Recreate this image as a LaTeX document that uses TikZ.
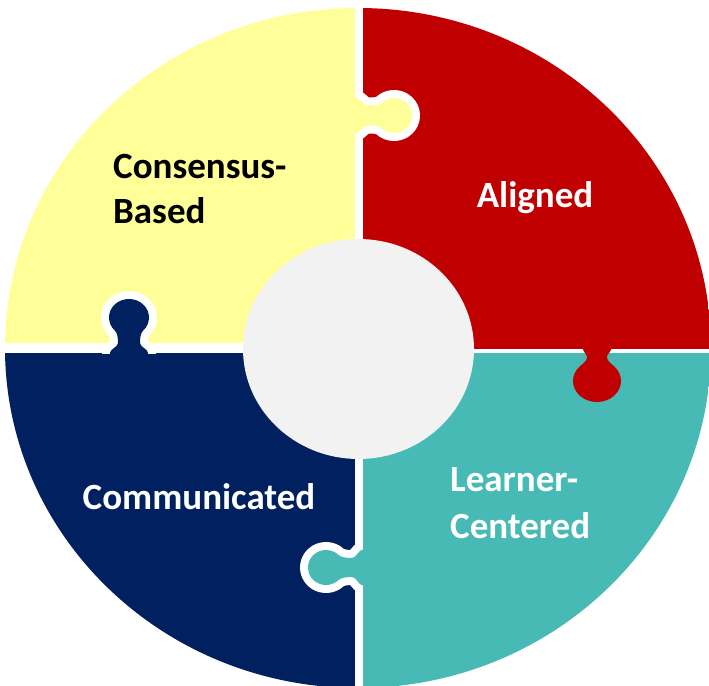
\documentclass[tikz,border=0pt]{standalone}
\usepackage{fontspec}
\setmainfont{Carlito}
\definecolor{cyellow}{HTML}{FFFF99}
\definecolor{cred}{HTML}{C00000}
\definecolor{cteal}{HTML}{47BAB6}
\definecolor{cnavy}{HTML}{002060}
\definecolor{cgray}{HTML}{F2F2F2}
\tikzset{
  lbl/.style={inner sep=0pt, align=left, font=\fontsize{37}{45}\selectfont\bfseries},
  tabedge/.style={draw=white, line width=16pt, line join=round},
}
% d ra rp n un f : knob centre distance, radius along axis, radius across, neck half width, neck position, flare half width
\newcommand{\puzzletab}[6]{%
  (-9,-#6) -- (0,-#6) .. controls ({0.4*#5},-#6) and ({0.6*#5},-#4) .. (#5,-#4)
  .. controls ({#5+4},-#4) and ({#1-0.8485*#2},{-0.5657*#3}) .. ({#1-0.7071*#2},{-0.7071*#3})
  arc[start angle=225, end angle=495, x radius=#2, y radius=#3]
  .. controls ({#1-0.8485*#2},{0.5657*#3}) and ({#5+4},#4) .. (#5,#4)
  .. controls ({0.6*#5},#4) and ({0.4*#5},#6) .. (0,#6) -- (-9,#6) -- cycle}
\begin{document}
\begin{tikzpicture}[x=1pt,y=-1pt]
\useasboundingbox (0,0) rectangle (709,685);
\fill[white] (0,0) rectangle (709,685);
% quadrants
\begin{scope}
\clip (358,348) ellipse [x radius=353, y radius=340];
\fill[cyellow] (0,0) rectangle (355,343);
\fill[cred] (363,0) rectangle (720,349);
\fill[cnavy] (0,353) rectangle (355,700);
\fill[cteal] (363,353) rectangle (720,700);
\end{scope}
% yellow tab into red
\begin{scope}
\clip (355,0) rectangle (709,348);
\begin{scope}[shift={(354.5,115.5)}]
\draw[tabedge] \puzzletab{39.5}{18}{17.5}{10}{13.5}{18};
\end{scope}
\end{scope}
\begin{scope}[shift={(354.5,115.5)}]
\fill[cyellow] \puzzletab{39.5}{18}{17.5}{10}{13.5}{18};
\end{scope}
% navy tab into yellow
\begin{scope}
\clip (0,0) rectangle (355,353);
\begin{scope}[shift={(129,353)}, rotate=90]
\draw[tabedge] \puzzletab{35.5}{18.5}{20}{11}{10}{19};
\end{scope}
\end{scope}
\begin{scope}[shift={(129,353)}, rotate=90]
\fill[cnavy] \puzzletab{35.5}{18.5}{20}{11}{10}{19};
\end{scope}
% teal tab into navy
\begin{scope}
\clip (0,353) rectangle (362.5,685);
\begin{scope}[shift={(363,567.5)}, rotate=180]
\draw[tabedge] \puzzletab{37}{18}{17.5}{9.5}{11}{18};
\end{scope}
\end{scope}
\begin{scope}[shift={(363,567.5)}, rotate=180]
\fill[cteal] \puzzletab{37}{18}{17.5}{9.5}{11}{18};
\end{scope}
% red tab into teal
\begin{scope}[shift={(597,349)}, rotate=-90]
\fill[cred] \puzzletab{32}{21}{24}{10}{8}{14};
\end{scope}
% centre
\fill[cgray] (358.5,349) ellipse [x radius=115.5, y radius=110];
% labels
\node[lbl, text=black, anchor=base west] (cb) at (113,223) {Consensus-\\Based};
\node[lbl, text=white, anchor=base] (al) at (535,207) {Aligned};
\node[lbl, text=white, anchor=base west, font=\fontsize{37}{47}\selectfont\bfseries] (lc) at (450,538) {Learner-\\Centered};
\node[lbl, text=white, anchor=base] (co) at (199,509) {Communicated};
\end{tikzpicture}
\end{document}
